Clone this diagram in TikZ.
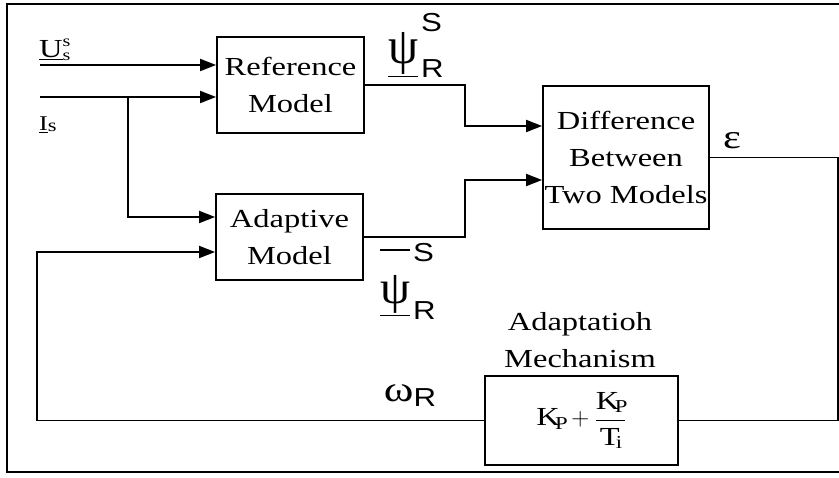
\documentclass[tikz,border=0pt]{standalone}
\usepackage{fontspec}
\setmainfont[FakeStretch=1.25]{Liberation Serif}
\newfontfamily\arialfnt[FakeStretch=1.2]{Liberation Sans}
\usetikzlibrary{arrows.meta,calc,positioning}

\tikzset{
    blk/.style={draw, line width=1.8pt, align=center, inner sep=0pt},
    sig/.style={line width=1.8pt},
    arr/.style={sig, -{Triangle[length=16pt,width=12pt]}},
}

\begin{document}
\begin{tikzpicture}[x=1pt, y=-1pt, font=\fontsize{26}{37}\selectfont]
    \useasboundingbox (0,0) rectangle (839,478);
    % frame
    \draw[line width=2pt] (839,4) -- (7,4) -- (7,472) -- (839,472);

    % blocks
    \node[blk, minimum width=147pt, minimum height=96pt] (ref) at (290.5,85) {Reference\\Model};
    \node[blk, minimum width=147pt, minimum height=86pt] (adapt) at (289.5,237) {Adaptive\\Model};
    \node[blk, minimum width=166pt, minimum height=143pt] (diff) at (626,157.5) {Difference\\Between\\Two Models};
    \node[blk, minimum width=193pt, minimum height=89pt] (pi) at (581.5,420.5)
        {${\mathrm{K}}_{\mathrm{P}}+\displaystyle\frac{{\mathrm{K}}_{\mathrm{P}}\rule[-6pt]{0pt}{6pt}}{\rule{0pt}{24pt}{\mathrm{T}}_{\mathrm{i}}}$};
    \node[align=center] (mech) at (580,340) {Adaptatioh\\Mechanism};

    % inputs
    \coordinate (uin) at (40,65);
    \coordinate (iin) at (40,97);
    \coordinate (br) at (128,97);
    \draw[arr] (uin) -- (uin -| ref.west);
    \draw[arr] (iin) -- (iin -| ref.west);
    \draw[arr] (br) |- ($(adapt.west)+(0,-20)$);
    \node[anchor=base west, inner sep=0pt] (us) at (39,58)
        {\underline{U}\rlap{\raisebox{11pt}{\fontsize{16}{16}\selectfont s}}\raisebox{-3pt}{\fontsize{16}{16}\selectfont s}};
    \node[anchor=base west, inner sep=0pt, font=\fontsize{21}{25}\selectfont] (is) at (39,131)
        {\underline{I}\raisebox{-1pt}{\fontsize{18}{18}\selectfont s}};

    % model outputs
    \coordinate (mx) at (465,0);
    \coordinate (d1) at ($(diff.west)+(0,-31.5)$);
    \coordinate (d2) at ($(diff.west)+(0,22.5)$);
    \draw[arr] (ref.east) -| (mx |- d1) -- (d1);
    \draw[arr] (adapt.east) -| (mx |- d2) -- (d2);
    \node[anchor=base west, inner sep=0pt] (psiref) at (388,64)
        {\underline{\resizebox*{30pt}{42pt}{ψ}}\kern3pt\rlap{\raisebox{32pt}{\arialfnt S}}\raisebox{-14pt}{\arialfnt R}};
    \node[anchor=base west, inner sep=0pt] (psiadp) at (380,304)
        {\rlap{\raisebox{53pt}{\rule{30pt}{1.5pt}}}\underline{\resizebox*{30pt}{38pt}{ψ}}\kern3pt\rlap{\raisebox{42pt}{\arialfnt S}}\raisebox{-16pt}{\arialfnt R}};

    % error and feedback
    \coordinate (rx) at (838,0);
    \coordinate (lx) at (37,0);
    \coordinate (a2) at ($(adapt.west)+(0,15)$);
    \draw[sig] (diff.east) -| (rx |- pi.east) -- (pi.east);
    \draw[arr] (pi.west) -| (lx |- a2) -- (a2);
    \node[font=\fontsize{34}{34}\selectfont] (eps) at (732,141) {ε};
    \node (wr) at (410,396) {{\fontsize{36}{36}\selectfont ω}\raisebox{-5pt}{\arialfnt R}};
\end{tikzpicture}
\end{document}
